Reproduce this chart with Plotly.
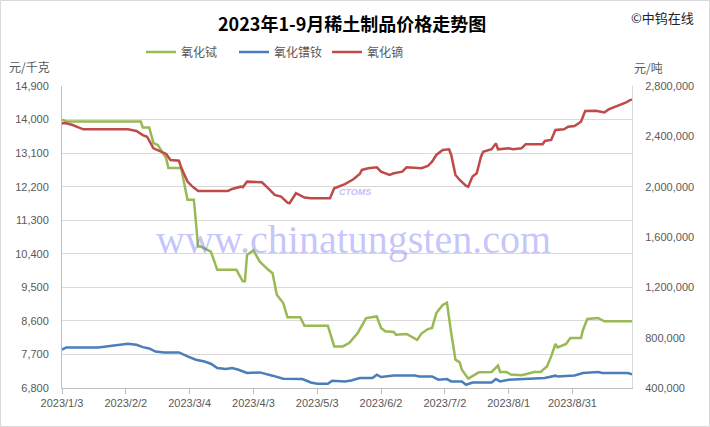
import plotly.graph_objects as go

# ---------------- data ----------------
tb_dates = ["2023-01-03", "2023-01-05", "2023-02-09", "2023-02-10", "2023-02-13", "2023-02-15",
            "2023-02-17", "2023-02-19", "2023-02-21", "2023-02-22", "2023-02-28", "2023-03-03",
            "2023-03-06", "2023-03-08", "2023-03-09", "2023-03-14", "2023-03-17", "2023-03-26",
            "2023-03-29", "2023-03-30", "2023-03-31", "2023-04-03", "2023-04-06", "2023-04-10",
            "2023-04-12", "2023-04-14", "2023-04-17", "2023-04-19", "2023-04-25", "2023-04-27",
            "2023-05-08", "2023-05-11", "2023-05-15", "2023-05-18", "2023-05-20", "2023-05-22",
            "2023-05-26", "2023-05-31", "2023-06-02", "2023-06-04", "2023-06-08", "2023-06-09",
            "2023-06-14", "2023-06-16", "2023-06-19", "2023-06-21", "2023-06-24", "2023-06-26",
            "2023-06-28", "2023-07-01", "2023-07-03", "2023-07-05", "2023-07-07", "2023-07-09",
            "2023-07-10", "2023-07-13", "2023-07-15", "2023-07-18", "2023-07-24", "2023-07-27",
            "2023-07-28", "2023-07-31", "2023-08-02", "2023-08-07", "2023-08-09", "2023-08-13",
            "2023-08-16", "2023-08-19", "2023-08-21", "2023-08-23", "2023-08-24", "2023-08-28",
            "2023-08-30", "2023-09-04", "2023-09-05", "2023-09-07", "2023-09-12", "2023-09-15",
            "2023-09-28"]
tb_values = [14000, 13950, 13950, 13790, 13790, 13370,
             13320, 13140, 12960, 12700, 12700, 11850,
             11850, 10595, 10600, 10460, 9970, 9970,
             9660, 9660, 10370, 10490, 10190, 9970,
             9880, 9300, 9080, 8700, 8700, 8470,
             8470, 7915, 7915, 8006, 8140, 8270,
             8675, 8720, 8410, 8320, 8300, 8230,
             8250, 8185, 8090, 8260, 8380, 8410,
             8810, 9030, 9090, 8270, 7560, 7486,
             7290, 7050, 7110, 7220, 7230, 7400,
             7230, 7230, 7160, 7140, 7170, 7230,
             7230, 7380, 7647, 7980, 7888, 7980,
             8140, 8140, 8363, 8650, 8680, 8590,
             8590]

prnd_dates = ["2023-01-03", "2023-01-05", "2023-01-20", "2023-01-29", "2023-02-03", "2023-02-07",
              "2023-02-10", "2023-02-13", "2023-02-16", "2023-02-20", "2023-02-27", "2023-03-03",
              "2023-03-07", "2023-03-11", "2023-03-14", "2023-03-17", "2023-03-21", "2023-03-24",
              "2023-03-27", "2023-03-31", "2023-04-06", "2023-04-12", "2023-04-17", "2023-04-26",
              "2023-04-30", "2023-05-03", "2023-05-08", "2023-05-10", "2023-05-16", "2023-05-19",
              "2023-05-23", "2023-05-29", "2023-05-31", "2023-06-02", "2023-06-05", "2023-06-08",
              "2023-06-18", "2023-06-20", "2023-06-26", "2023-06-29", "2023-07-03", "2023-07-05",
              "2023-07-10", "2023-07-12", "2023-07-15", "2023-07-24", "2023-07-26", "2023-07-28",
              "2023-08-01", "2023-08-09", "2023-08-18", "2023-08-23", "2023-08-24", "2023-09-01",
              "2023-09-05", "2023-09-12", "2023-09-14", "2023-09-26", "2023-09-28"]
prnd_values = [704000, 722000, 722000, 738000, 752000, 744000,
               725000, 714000, 690000, 683000, 683000, 651000,
               625000, 611000, 593000, 559000, 551000, 559000,
               545000, 519000, 524000, 498000, 474000, 471000,
               444000, 434000, 434000, 458000, 452000, 460000,
               479000, 479000, 506000, 487000, 492000, 500000,
               500000, 492000, 492000, 466000, 471000, 452000,
               452000, 426000, 444000, 444000, 471000, 452000,
               466000, 474000, 479000, 498000, 492000, 500000,
               519000, 527000, 519000, 519000, 508000]

dy_dates = ["2023-01-03", "2023-01-05", "2023-01-08", "2023-01-10", "2023-01-13", "2023-02-03",
            "2023-02-07", "2023-02-10", "2023-02-12", "2023-02-15", "2023-02-17", "2023-02-21",
            "2023-02-23", "2023-02-27", "2023-02-28", "2023-03-02", "2023-03-03", "2023-03-05",
            "2023-03-08", "2023-03-22", "2023-03-24", "2023-03-28", "2023-03-29", "2023-03-31",
            "2023-04-07", "2023-04-10", "2023-04-13", "2023-04-16", "2023-04-19", "2023-04-20",
            "2023-04-23", "2023-04-27", "2023-04-30", "2023-05-09", "2023-05-11", "2023-05-16",
            "2023-05-20", "2023-05-23", "2023-05-24", "2023-05-27", "2023-05-31", "2023-06-02",
            "2023-06-06", "2023-06-08", "2023-06-12", "2023-06-14", "2023-06-21", "2023-06-24",
            "2023-06-26", "2023-06-28", "2023-07-01", "2023-07-04", "2023-07-05", "2023-07-07",
            "2023-07-09", "2023-07-12", "2023-07-13", "2023-07-15", "2023-07-17", "2023-07-19",
            "2023-07-20", "2023-07-24", "2023-07-26", "2023-07-27", "2023-08-01", "2023-08-03",
            "2023-08-07", "2023-08-09", "2023-08-17", "2023-08-18", "2023-08-21", "2023-08-23",
            "2023-08-27", "2023-08-29", "2023-09-01", "2023-09-04", "2023-09-06", "2023-09-11",
            "2023-09-15", "2023-09-17", "2023-09-20", "2023-09-23", "2023-09-25", "2023-09-27",
            "2023-09-28"]
dy_values = [2503000, 2503000, 2490000, 2476000, 2456000, 2456000,
             2442000, 2410000, 2397000, 2305000, 2291000, 2260000,
             2212000, 2206000, 2154000, 2085000, 2040000, 2006000,
             1965000, 1966000, 1982000, 2000000, 1995000, 2040000,
             2035000, 1987000, 1934000, 1921000, 1873000, 1868000,
             1948000, 1913000, 1908000, 1908000, 1987000, 2020000,
             2059000, 2101000, 2133000, 2146000, 2154000, 2119000,
             2093000, 2106000, 2119000, 2154000, 2146000, 2164000,
             2199000, 2252000, 2291000, 2297000, 2252000, 2093000,
             2053000, 2006000, 2000000, 2080000, 2106000, 2238000,
             2278000, 2297000, 2344000, 2297000, 2305000, 2297000,
             2305000, 2337000, 2337000, 2363000, 2371000, 2450000,
             2456000, 2476000, 2482000, 2516000, 2601000, 2603000,
             2590000, 2614000, 2635000, 2657000, 2667000, 2688000,
             2690000]

x_tickvals = ["2023-01-03", "2023-02-02", "2023-03-04", "2023-04-03", "2023-05-03",
              "2023-06-02", "2023-07-02", "2023-08-01", "2023-08-31"]
x_ticktext = ["2023/1/3", "2023/2/2", "2023/3/4", "2023/4/3", "2023/5/3",
              "2023/6/2", "2023/7/2", "2023/8/1", "2023/8/31"]

# ---------------- styles ----------------
GREEN = "#98b954"
BLUE = "#4a7ebb"
RED = "#be4b48"
GRID = "#d9d9d9"
AXIS = "#bfbfbf"
TXT = "#595959"
FONT = "Liberation Sans, Noto Sans CJK SC, sans-serif"
CJK = "Noto Sans CJK SC, sans-serif"

fig = go.Figure()
fig.add_trace(go.Scatter(x=tb_dates, y=tb_values, name="氧化铽", mode="lines",
                         line=dict(color=GREEN, width=2.5), yaxis="y"))
fig.add_trace(go.Scatter(x=prnd_dates, y=prnd_values, name="氧化镨钕", mode="lines",
                         line=dict(color=BLUE, width=2.5), yaxis="y2"))
fig.add_trace(go.Scatter(x=dy_dates, y=dy_values, name="氧化镝", mode="lines",
                         line=dict(color=RED, width=2.5), yaxis="y2"))

W, H = 710, 427
ML, MR, MT, MB = 62, 78, 86, 39
PW, PH = W - ML - MR, H - MT - MB


def px(xp):
    return (xp - ML) / PW


def py(yp):
    return (H - MB - yp) / PH


fig.update_layout(
    width=W, height=H,
    margin=dict(l=ML, r=MR, t=MT, b=MB, autoexpand=False),
    paper_bgcolor="white", plot_bgcolor="white",
    font=dict(family=FONT, size=11, color=TXT),
    title=dict(text="<b>2023年1-9月稀土制品价格走势图</b>", x=0.496, xanchor="center",
               y=1 - 25 / H, yanchor="middle", yref="container",
               font=dict(family=CJK, size=18, color="#000000")),
    showlegend=True,
    legend=dict(orientation="h", x=px(141), xanchor="left", y=py(52), yanchor="middle",
                font=dict(family=CJK, size=12, color=TXT), bgcolor="rgba(0,0,0,0)",
                entrywidth=48, entrywidthmode="pixels", itemwidth=30, tracegroupgap=0),
    xaxis=dict(type="date", range=["2023-01-03", "2023-09-28"],
               tickvals=x_tickvals, ticktext=x_ticktext,
               ticks="outside", ticklen=5, tickcolor=AXIS, showline=True, linecolor=AXIS,
               showgrid=False, zeroline=False, tickfont=dict(size=11, color=TXT)),
    yaxis=dict(range=[6800, 14900], tick0=6800, dtick=900, tickformat=",",
               showgrid=True, gridcolor=GRID, gridwidth=1, zeroline=False,
               showline=True, linecolor=AXIS, ticks="", ticklabelstandoff=10,
               tickfont=dict(size=11, color=TXT)),
    yaxis2=dict(range=[400000, 2800000], tick0=400000, dtick=400000, tickformat=",",
                overlaying="y", side="right", showgrid=False, zeroline=False,
                showline=True, linecolor=GRID, ticks="", ticklabelstandoff=10,
                tickfont=dict(size=11, color=TXT)),
)

annotations = [
    dict(text="©中钨在线", x=px(662), y=py(18), xref="paper", yref="paper",
         xanchor="center", yanchor="middle",
         showarrow=False, font=dict(family=CJK, size=13, color="#222222")),
    dict(text="元/千克", x=px(29), y=py(66), xref="paper", yref="paper",
         xanchor="center", yanchor="middle",
         showarrow=False, font=dict(family=CJK, size=12, color=TXT)),
    dict(text="元/吨", x=px(648), y=py(68), xref="paper", yref="paper",
         xanchor="center", yanchor="middle",
         showarrow=False, font=dict(family=CJK, size=12, color=TXT)),
    dict(text="www.chinatungsten.com", x=px(353), y=py(240), xref="paper", yref="paper",
         xanchor="center", yanchor="middle",
         showarrow=False, font=dict(family="Liberation Serif, serif", size=40,
                                    color="rgba(105,105,245,0.40)")),
    dict(text="<b><i>CTOMS</i></b>", x=px(355), y=py(192), xref="paper", yref="paper",
         xanchor="center", yanchor="middle",
         showarrow=False, font=dict(family="Liberation Sans, sans-serif", size=9,
                                    color="rgba(105,105,245,0.45)")),
]
fig.update_layout(annotations=annotations)

fig.add_shape(type="rect", xref="paper", yref="paper",
              x0=px(0.5), x1=px(W - 0.5), y0=py(H - 0.5), y1=py(0.5),
              line=dict(color=GRID, width=1), fillcolor="rgba(0,0,0,0)", layer="below")

fig.write_html("out.html", config={"displayModeBar": False},
               post_script="document.body.style.margin='0';document.body.style.overflow='hidden';")
